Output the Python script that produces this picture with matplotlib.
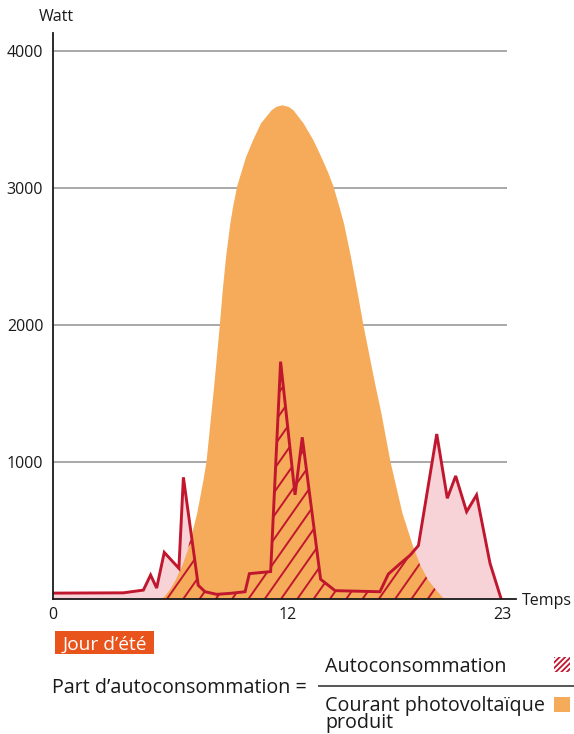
import numpy as np
import matplotlib.pyplot as plt
from matplotlib.patches import Rectangle, Polygon
from matplotlib.collections import LineCollection
from matplotlib.lines import Line2D

plt.rcParams['font.family'] = ['Open Sans', 'DejaVu Sans']

# Courant photovoltaïque produit (heure, Watt)
pv_heure = [5.38, 5.64, 5.94, 6.25, 6.64, 6.93, 7.36, 7.68, 7.84, 8.09, 8.26, 8.52,
            8.67, 8.84, 9.06, 9.20, 9.41, 9.61, 9.86, 10.22, 10.63, 11.17, 11.42,
            11.72, 12.04, 12.30, 12.82, 13.32, 13.73, 14.09, 14.34, 14.65, 14.88,
            15.24, 15.56, 15.88, 16.44, 16.80, 17.26, 17.88, 18.44, 18.80, 19.21,
            19.62, 20.03]
pv_watt = [0, 15, 66, 139, 263, 380, 628, 869, 1007, 1358, 1599, 2000,
           2255, 2499, 2745, 2864, 3015, 3109, 3226, 3350, 3474, 3569, 3595,
           3606, 3595, 3569, 3472, 3350, 3226, 3109, 3015, 2864, 2745,
           2499, 2255, 2000, 1599, 1358, 1007, 628, 380, 248, 139,
           66, 0]

# Consommation du foyer (heure, Watt)
conso_heure = [0, 3.6, 4.63, 5.0, 5.31, 5.70, 6.45, 6.68, 7.44, 7.79, 8.38, 9.07,
               9.84, 10.06, 11.15, 11.66, 12.4, 12.77, 13.71, 14.45, 16.75, 17.18,
               17.8, 18.3, 18.72, 19.66, 20.2, 20.63, 21.19, 21.7, 22.39, 22.95]
conso_watt = [43, 45, 65, 175, 80, 340, 224, 888, 100, 53, 34, 41,
              53, 185, 200, 1732, 760, 1180, 144, 61, 53, 182,
              260, 320, 390, 1204, 735, 898, 637, 759, 260, 5]

y_ticks = [1000, 2000, 3000, 4000]
x_ticks = [0, 12, 23]

ROUGE = '#c0172f'
ORANGE = '#f5ab59'
ROSE = '#f7d2d7'
TEXTE = '#1a1a1a'

W, H = 574, 734
fig = plt.figure(figsize=(W / 100, H / 100), dpi=100)

# position de l'axe en pixels
ax_l, ax_r, ax_b, ax_t = 53, 516, 599, 33
ax = fig.add_axes([ax_l / W, 1 - ax_b / H, (ax_r - ax_l) / W, (ax_b - ax_t) / H])
xmax, ymax = 23.72, 4130
ax.set_xlim(0, xmax)
ax.set_ylim(0, ymax)

ax.hlines(y_ticks, 0, 23.25, color='#a8a8a8', lw=1.4, zorder=1)
ax.fill_between(conso_heure, 0, conso_watt, color=ROSE, lw=0, zorder=2)
ax.fill_between(pv_heure, 0, pv_watt, color=ORANGE, lw=0, zorder=3)

# zone d'autoconsommation = min(conso, pv)
xs = np.union1d(np.linspace(0, 23, 3000), np.array(conso_heure + pv_heure))
m = np.minimum(np.interp(xs, conso_heure, conso_watt),
               np.interp(xs, pv_heure, pv_watt, left=0, right=0))
verts = np.vstack([np.column_stack([xs, m]), [[xs[-1], 0], [xs[0], 0]]])
zone = Polygon(verts, closed=True, transform=ax.transData, fc='none', ec='none')

# hachures inclinées
px_h = (ax_r - ax_l) / xmax
px_w = (ax_b - ax_t) / ymax
pente = np.tan(np.radians(55))
dx = ymax * px_w / pente / px_h
pas = 16.3 / px_h
segs = [[(x0, 0), (x0 + dx, ymax)] for x0 in np.arange(-12, 24, pas) + 0.3]
hach = LineCollection(segs, colors=ROUGE, linewidths=1.4, zorder=4)
ax.add_collection(hach)
hach.set_clip_path(zone)

ax.plot(conso_heure, conso_watt, color=ROUGE, lw=2.1, zorder=5,
        solid_joinstyle='miter')

for s in ['top', 'right']:
    ax.spines[s].set_visible(False)
for s in ['left', 'bottom']:
    ax.spines[s].set_linewidth(1.3)
    ax.spines[s].set_color(TEXTE)
    ax.spines[s].set_zorder(6)

ax.set_yticks(y_ticks)
ax.set_xticks(x_ticks)
ax.tick_params(axis='both', length=0, labelsize=11.5, colors=TEXTE)
ax.tick_params(axis='y', pad=7)
ax.tick_params(axis='x', pad=6)


def fx(px):
    return px / W


def fy(py):
    return 1 - py / H


fig.text(fx(56), fy(17), 'Watt', fontsize=11.5, ha='center', va='center', color=TEXTE)
fig.text(fx(522), fy(601), 'Temps', fontsize=11.5, ha='left', va='center', color=TEXTE)

# étiquette
fig.add_artist(Rectangle((fx(55), fy(654)), fx(154) - fx(55), fy(631) - fy(654),
                         transform=fig.transFigure, fc='#e8541c', ec='none'))
fig.text(fx(104.5), fy(649.3), 'Jour d’été', fontsize=13.8, color='white',
         ha='center', va='baseline')

# formule
fs = 14.2
fig.text(fx(52), fy(693.3), 'Part d’autoconsommation =', fontsize=fs,
         ha='left', va='baseline', color=TEXTE)
fig.add_artist(Line2D([fx(319), fx(574)], [fy(686), fy(686)],
                      transform=fig.transFigure, color='#555555', lw=1.4))
fig.text(fx(325), fy(672.3), 'Autoconsommation', fontsize=fs,
         ha='left', va='baseline', color=TEXTE)
fig.text(fx(325), fy(728), 'Courant photovoltaïque\nproduit', fontsize=fs,
         ha='left', va='baseline', color=TEXTE, linespacing=0.78)

plt.rcParams['hatch.linewidth'] = 1.3
plt.rcParams['hatch.color'] = ROUGE
fig.add_artist(Rectangle((fx(554), fy(672)), fx(570) - fx(554), fy(657) - fy(672),
                         transform=fig.transFigure, fc='white', ec=ROUGE, lw=0,
                         hatch='//////'))
fig.add_artist(Rectangle((fx(554), fy(712)), fx(570) - fx(554), fy(697) - fy(712),
                         transform=fig.transFigure, fc=ORANGE, ec='none'))

fig.savefig('out.png', dpi=100)
